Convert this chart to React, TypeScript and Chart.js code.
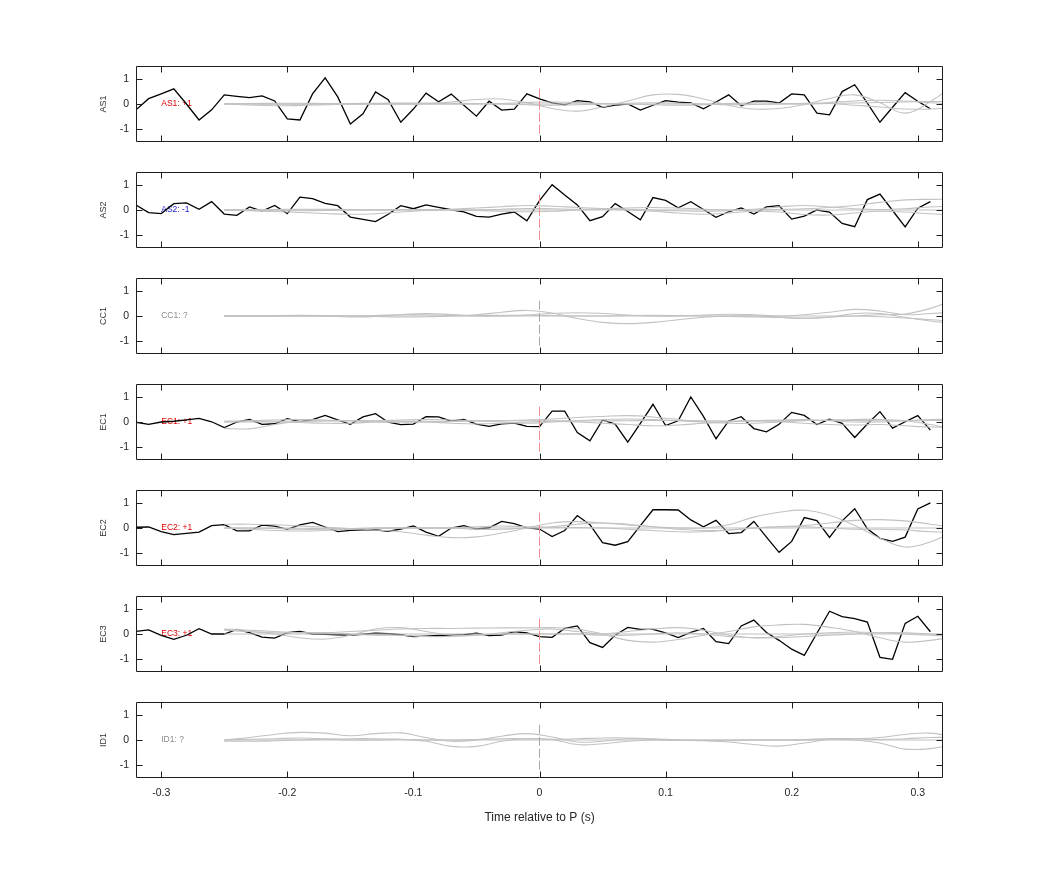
import React, { useEffect, useRef } from "react";
import { Chart, registerables } from "chart.js";

Chart.register(...registerables);

// ---------- data ----------
const TIME = [
  -0.32, -0.31, -0.3, -0.29, -0.28, -0.27, -0.26, -0.25, -0.24, -0.23, -0.22, -0.21, -0.2, -0.19, -0.18, -0.17,
  -0.16, -0.15, -0.14, -0.13, -0.12, -0.11, -0.1, -0.09, -0.08, -0.07, -0.06, -0.05, -0.04, -0.03, -0.02, -0.01,
  0, 0.01, 0.02, 0.03, 0.04, 0.05, 0.06, 0.07, 0.08, 0.09, 0.1, 0.11, 0.12, 0.13, 0.14, 0.15,
  0.16, 0.17, 0.18, 0.19, 0.2, 0.21, 0.22, 0.23, 0.24, 0.25, 0.26, 0.27, 0.28, 0.29, 0.3, 0.31,
];
const GRAY_TIME = [
  -0.25, -0.23, -0.21, -0.19, -0.17, -0.15, -0.13, -0.11, -0.09, -0.07, -0.05, -0.03, -0.01, 0.01, 0.03,
  0.05, 0.07, 0.09, 0.11, 0.13, 0.15, 0.17, 0.19, 0.21, 0.23, 0.25, 0.27, 0.29, 0.31, 0.33,
];
const X_TICKS = [-0.3, -0.2, -0.1, 0, 0.1, 0.2, 0.3];
const Y_TICKS = [-1, 0, 1];
const X_RANGE = [-0.32, 0.32];
const Y_RANGE = [-1.5, 1.5];
const X_TITLE = "Time relative to P (s)";
const ONSET_X = 0;
const ONSET_SPAN = [0.6, -1.2];
const LABEL_AT = [-0.3, 0];

const AS1_TRACE = [
  -0.23, 0.21, 0.4, 0.6, 0.0, -0.63, -0.23, 0.36, 0.3, 0.25, 0.32, 0.12, -0.59, -0.63, 0.4, 1.03,
  0.28, -0.79, -0.39, 0.48, 0.17, -0.72, -0.2, 0.43, 0.09, 0.39, -0.05, -0.48, 0.11, -0.24, -0.2, 0.4,
  0.2, 0.04, -0.03, 0.13, 0.08, -0.13, -0.04, 0.0, -0.24, -0.05, 0.13, 0.07, 0.04, -0.19, 0.08, 0.36,
  -0.07, 0.11, 0.11, 0.04, 0.4, 0.36, -0.36, -0.43, 0.49, 0.76, 0.03, -0.72, -0.13, 0.45, 0.11, -0.19,
];
const AS2_TRACE = [
  0.2, -0.1, -0.14, 0.25, 0.28, 0.03, 0.33, -0.16, -0.21, 0.12, -0.04, 0.18, -0.14, 0.51, 0.45, 0.26,
  0.17, -0.28, -0.37, -0.46, -0.17, 0.17, 0.05, 0.2, 0.1, 0.01, -0.07, -0.25, -0.28, -0.16, -0.08, -0.43,
  0.37, 1.0, 0.59, 0.2, -0.42, -0.26, 0.25, -0.06, -0.39, 0.49, 0.38, 0.09, 0.33, 0.02, -0.29, -0.07,
  0.08, -0.16, 0.12, 0.17, -0.36, -0.24, 0.0, -0.08, -0.53, -0.66, 0.41, 0.63, -0.02, -0.67, 0.07, 0.33,
];
const EC1_TRACE = [
  -0.01, -0.09, 0, 0.03, 0.08, 0.14, 0.01, -0.22, 0.0, 0.1, -0.09, -0.07, 0.13, 0.01, 0.09, 0.26,
  0.08, -0.09, 0.2, 0.33, -0.01, -0.1, -0.08, 0.21, 0.2, 0.03, 0.1, -0.08, -0.17, -0.07, -0.04, -0.17,
  -0.18, 0.43, 0.43, -0.42, -0.74, 0.08, -0.08, -0.79, -0.05, 0.7, -0.14, 0.05, 0.99, 0.22, -0.66, 0.04,
  0.21, -0.26, -0.39, -0.09, 0.38, 0.26, -0.1, 0.11, -0.05, -0.61, -0.08, 0.41, -0.24, 0.01, 0.25, -0.32,
];
const EC2_TRACE = [
  0.03, 0.04, -0.14, -0.26, -0.21, -0.16, 0.09, 0.13, -0.11, -0.11, 0.11, 0.07, -0.05, 0.12, 0.22, 0.04,
  -0.14, -0.09, -0.07, -0.07, -0.13, -0.04, 0.08, -0.16, -0.33, 0, 0.09, -0.04, 0.01, 0.26, 0.17, 0.01,
  -0.04, -0.34, -0.1, 0.49, 0.13, -0.58, -0.68, -0.54, 0.09, 0.72, 0.72, 0.71, 0.32, 0.05, 0.3, -0.22,
  -0.18, 0.26, -0.36, -0.96, -0.53, 0.41, 0.29, -0.37, 0.28, 0.76, -0.03, -0.41, -0.53, -0.36, 0.75, 0.99,
];
const EC3_TRACE = [
  0.1, 0.16, -0.05, -0.21, -0.05, 0.21, 0, 0, 0.18, 0.05, -0.12, -0.16, 0.05, 0.1, 0, -0.01,
  -0.03, -0.04, -0.01, 0.03, 0.01, -0.03, -0.1, -0.08, -0.06, -0.05, -0.03, 0.03, -0.06, -0.04, 0.09, 0.04,
  -0.1, -0.13, 0.22, 0.32, -0.34, -0.53, -0.05, 0.26, 0.18, 0.18, 0.04, -0.14, 0.06, 0.22, -0.3, -0.38,
  0.32, 0.55, 0.06, -0.25, -0.6, -0.84, 0.03, 0.9, 0.69, 0.61, 0.47, -0.92, -1.0, 0.42, 0.7, 0.09,
];

const AS1_GRAY_A = [0, 0, 0, 0, 0, 0, 0, 0, 0.0, 0.08, 0.18, 0.2, 0.05, -0.18, -0.28, -0.12, 0.12, 0.36, 0.38, 0.2, -0.05, -0.2, -0.18, -0.02, 0.22, 0.36, 0.05, -0.36, 0.1, 0.8];
const AS1_GRAY_B = [0, -0.04, -0.07, -0.06, -0.03, 0, 0, 0, 0, 0, 0, 0.02, 0.06, 0.08, 0.06, 0.02, 0, -0.03, -0.05, -0.03, 0.02, 0.05, 0.03, 0, 0.06, 0.12, 0.15, 0.12, 0.05, 0];
const AS1_GRAY_C = [0.02, 0.02, 0.03, 0.03, 0.02, 0.02, 0.03, 0.04, 0.04, 0.03, 0.02, 0, -0.03, -0.05, -0.03, 0, 0.03, 0.05, 0.03, 0, -0.03, -0.02, 0, 0.03, 0.02, -0.05, -0.12, -0.2, -0.2, -0.15];
const AS1_GRAY_D = [0, 0, -0.01, -0.01, 0, 0, 0, 0.01, 0.01, 0, 0, 0, 0, 0, 0.01, 0.01, 0, 0, 0, 0, 0, 0, 0, 0, 0.02, 0.04, 0.06, 0.08, 0.1, 0.1];

const AS2_GRAY_A = [0, -0.03, -0.06, -0.1, -0.14, -0.17, -0.15, -0.08, -0.02, 0.03, 0.08, 0.13, 0.18, 0.15, 0.1, 0.06, 0.03, 0, -0.03, -0.05, -0.03, 0, 0.02, 0.05, 0.1, 0.18, 0.3, 0.4, 0.42, 0.42];
const AS2_GRAY_B = [0, 0, 0.02, 0.03, 0.03, 0.02, 0, 0, 0, 0, 0, 0.03, 0.06, 0.05, 0.03, 0.05, 0.08, 0.1, 0.08, 0.03, 0, 0.03, 0.12, 0.18, 0.12, 0.05, 0.02, 0.05, 0.12, 0.15];
const AS2_GRAY_C = [0, -0.02, -0.03, -0.03, -0.02, 0, 0, 0, 0, 0, -0.02, -0.05, -0.07, -0.05, 0, 0.03, 0, -0.05, -0.12, -0.17, -0.12, -0.05, -0.08, -0.18, -0.2, -0.12, -0.05, -0.08, -0.15, -0.2];
const AS2_GRAY_D = [0, 0.01, 0.01, 0, 0, 0, 0.01, 0.02, 0.02, 0.01, 0, 0, 0, 0, 0, 0, 0, 0, 0, 0, 0, 0, 0, 0, 0, 0, 0, 0, 0, 0];

const CC1_GRAY_A = [0, 0, 0, 0, 0, 0, 0.02, 0.05, 0.05, 0.03, 0.05, 0.15, 0.22, 0.12, -0.1, -0.25, -0.3, -0.25, -0.15, -0.05, 0, 0, -0.05, -0.1, -0.05, 0.1, 0.1, -0.05, -0.2, -0.3];
const CC1_GRAY_B = [0, 0, 0, 0, 0, -0.04, -0.02, 0.06, 0.1, 0.06, 0, 0, 0.04, 0.1, 0.13, 0.1, 0.04, 0, 0, 0.04, 0.07, 0.05, 0, 0.05, 0.15, 0.26, 0.2, 0.05, 0.1, 0.15];
const CC1_GRAY_C = [0, 0, 0.02, 0.03, 0.02, 0, -0.02, -0.04, -0.03, 0, 0.02, 0.03, 0.03, 0.02, 0, 0, 0.02, 0.03, 0.02, 0, -0.02, -0.04, -0.06, -0.08, -0.04, 0, 0.05, 0.08, 0.3, 0.65];
const CC1_GRAY_D = [0, 0, 0, 0, 0, 0, 0, 0, 0, 0, 0, 0, 0, 0, 0, 0, 0, 0, 0, 0, 0, 0, 0, 0, 0, 0, -0.03, -0.08, -0.15, -0.2];

const EC1_GRAY_A = [-0.25, -0.27, -0.1, 0.03, 0.05, 0.05, 0, 0, 0, 0.02, 0.05, 0.05, 0.08, 0.12, 0.18, 0.22, 0.25, 0.2, 0.1, 0, -0.05, -0.05, 0, 0.05, 0.08, 0.1, 0.1, 0.05, -0.1, -0.3];
const EC1_GRAY_B = [0, 0.05, 0.08, 0.1, 0.08, 0.05, 0.05, 0.08, 0.1, 0.08, 0.05, 0, -0.05, 0, 0.05, 0.1, 0.12, 0.1, 0.05, 0, 0.02, 0.05, 0.08, 0.1, 0.05, 0, 0, 0.05, 0.1, 0.1];
const EC1_GRAY_C = [0, 0, 0, -0.02, -0.05, -0.05, 0, 0, 0, -0.05, -0.08, -0.05, 0, 0.03, 0, -0.05, -0.1, -0.15, -0.12, -0.05, 0, 0.05, 0.02, -0.05, -0.1, -0.12, -0.1, -0.15, -0.2, -0.2];
const EC1_GRAY_D = [0.04, 0.04, 0.03, 0.03, 0.04, 0.05, 0.05, 0.04, 0.03, 0.03, 0.04, 0.05, 0.05, 0.05, 0.04, 0.04, 0.05, 0.06, 0.06, 0.05, 0.04, 0.04, 0.05, 0.06, 0.06, 0.06, 0.05, 0.05, 0.06, 0.06];

const EC2_GRAY_A = [0.15, 0.15, 0.13, 0.08, 0.03, -0.02, -0.08, -0.15, -0.28, -0.38, -0.35, -0.2, 0.0, 0.2, 0.25, 0.2, 0.12, 0.05, 0.0, 0.0, 0.13, 0.43, 0.62, 0.7, 0.5, 0.1, -0.4, -0.75, -0.55, -0.1];
const EC2_GRAY_B = [0, -0.05, -0.1, -0.12, -0.1, -0.05, 0, 0, 0, 0, 0.05, 0.08, 0.05, 0.05, 0.15, 0.2, 0.15, 0.05, -0.05, -0.1, -0.08, 0, 0.05, 0.1, 0.2, 0.3, 0.33, 0.28, 0.15, 0];
const EC2_GRAY_C = [0, 0, -0.02, -0.05, -0.05, -0.03, 0, 0, 0, 0, -0.05, -0.05, 0, 0.02, 0.02, 0, -0.05, -0.1, -0.15, -0.15, -0.08, 0, 0.05, 0.05, 0, -0.05, -0.05, -0.08, -0.15, -0.15];
const EC2_GRAY_D = [0, 0, 0, -0.01, -0.02, -0.02, -0.01, 0, 0, 0, 0, 0, 0, 0, 0, 0, 0, 0, 0, 0, 0, 0, 0, 0, 0, 0, 0, 0, 0, 0];

const EC3_GRAY_A = [0.2, 0.15, 0.1, 0.05, 0.05, 0.1, 0.15, 0.2, 0.22, 0.22, 0.23, 0.24, 0.24, 0.25, 0.2, 0.0, -0.25, -0.32, -0.22, -0.05, 0.1, 0.28, 0.36, 0.38, 0.26, 0.1, -0.15, -0.32, -0.25, -0.1];
const EC3_GRAY_B = [0.18, 0.1, 0, -0.15, -0.2, -0.05, 0.2, 0.25, 0.1, -0.05, -0.05, 0.05, 0.15, 0.2, 0.1, 0, 0.1, 0.2, 0.25, 0.15, -0.05, -0.15, -0.1, 0, 0.05, 0.08, 0.05, 0, -0.05, -0.1];
const EC3_GRAY_C = [0.15, 0.1, 0.05, 0.05, 0.05, 0, -0.05, -0.05, -0.1, -0.1, -0.05, 0, 0, 0, 0, -0.05, -0.05, 0, 0.05, 0, -0.1, -0.15, -0.15, -0.1, -0.05, 0, 0.05, 0.05, 0, -0.05];
const EC3_GRAY_D = [0, 0, 0, 0, 0, 0, 0, 0, 0, 0, 0, 0, 0, 0, 0, 0, 0, 0, 0, 0, 0, 0, 0, 0, 0, 0, 0, 0, 0, 0];

const ID1_GRAY_A = [0, 0.1, 0.22, 0.3, 0.27, 0.17, 0.25, 0.28, 0.1, -0.05, 0, 0.15, 0.25, 0.12, -0.08, -0.05, 0.05, 0.03, -0.02, 0, 0, 0, 0, 0, 0.05, 0.05, 0.1, 0.22, 0.27, 0.1];
const ID1_GRAY_B = [0, 0.03, 0.05, 0.08, 0.05, 0, 0, 0.02, -0.05, -0.25, -0.25, -0.05, 0.05, 0.02, -0.18, -0.15, -0.05, 0, 0, -0.02, -0.08, -0.18, -0.24, -0.12, 0.02, 0, -0.12, -0.36, -0.34, -0.15];
const ID1_GRAY_C = [-0.05, -0.05, -0.03, 0, 0.03, 0.05, 0.05, 0.03, 0, 0, 0.02, 0.05, 0.05, 0.03, 0.05, 0.08, 0.08, 0.05, 0, -0.03, -0.03, 0, 0, 0.02, 0.05, 0.05, 0.02, 0.05, 0.1, 0.1];
const ID1_GRAY_D = [0, 0, 0, 0, 0, 0, 0, 0, 0, 0, 0, 0, 0, 0, 0, 0, 0, 0, 0, 0, 0, 0, 0, 0, 0, 0, 0, 0, 0, 0];

const PANEL_NAMES = ["AS1", "AS2", "CC1", "EC1", "EC2", "EC3", "ID1"];
const PANEL_LABELS = ["AS1: +1", "AS2: -1", "CC1: ?", "EC1: +1", "EC2: +1", "EC3: +1", "ID1: ?"];
const PANEL_SIGNS = ["+", "-", "?", "+", "+", "+", "?"];
const PANEL_TRACES = [AS1_TRACE, AS2_TRACE, null, EC1_TRACE, EC2_TRACE, EC3_TRACE, null];
const PANEL_GRAYS = [
  [AS1_GRAY_D, AS1_GRAY_C, AS1_GRAY_B, AS1_GRAY_A],
  [AS2_GRAY_D, AS2_GRAY_C, AS2_GRAY_B, AS2_GRAY_A],
  [CC1_GRAY_D, CC1_GRAY_C, CC1_GRAY_B, CC1_GRAY_A],
  [EC1_GRAY_D, EC1_GRAY_C, EC1_GRAY_B, EC1_GRAY_A],
  [EC2_GRAY_D, EC2_GRAY_C, EC2_GRAY_B, EC2_GRAY_A],
  [EC3_GRAY_D, EC3_GRAY_C, EC3_GRAY_B, EC3_GRAY_A],
  [ID1_GRAY_D, ID1_GRAY_C, ID1_GRAY_B, ID1_GRAY_A],
];

// ---------- style / layout ----------
const FONT = "'Liberation Sans', Arial, Helvetica, sans-serif";
const SIGN_COLORS: Record<string, string> = { "+": "#e00000", "-": "#1a1ad0", "?": "#8a8a8a" };
const PLOT_LEFT = 136;
const PLOT_RIGHT = 943;
const PLOT_TOP = 66;
const PLOT_H = 76;
const PANEL_STEP = 106;
const PAD_TOP = 16;
const BOTTOM = 16;
const BOTTOM_LAST = 60;
const Y_AXIS_W = 50;
const TICK_LEN = 6;

const fmtTick = (v: number) => (Math.abs(v) < 1e-9 ? "0" : String(+v.toFixed(1)));

const framePlugin = {
  id: "panelFrame",
  beforeDatasetsDraw(chart: any, _args: any, opts: any) {
    const { ctx, scales } = chart;
    ctx.save();
    ctx.font = `8.5px ${FONT}`;
    ctx.fillStyle = opts.labelColor;
    ctx.textAlign = "left";
    ctx.textBaseline = "middle";
    ctx.fillText(opts.label, scales.x.getPixelForValue(LABEL_AT[0]), scales.y.getPixelForValue(LABEL_AT[1]));
    ctx.restore();
  },
  afterDatasetsDraw(chart: any) {
    const { ctx, chartArea: a, scales } = chart;
    const L = Math.round(a.left) + 0.5;
    const R = Math.round(a.right) - 0.5;
    const T = Math.round(a.top) + 0.5;
    const B = Math.round(a.bottom) - 0.5;
    ctx.save();
    ctx.strokeStyle = "#1e1e1e";
    ctx.lineWidth = 1;
    ctx.beginPath();
    ctx.rect(L, T, R - L, B - T);
    for (const v of X_TICKS) {
      const px = Math.round(scales.x.getPixelForValue(v)) + 0.5;
      ctx.moveTo(px, T);
      ctx.lineTo(px, T + TICK_LEN);
      ctx.moveTo(px, B);
      ctx.lineTo(px, B - TICK_LEN);
    }
    for (const v of Y_TICKS) {
      const py = Math.round(scales.y.getPixelForValue(v)) + 0.5;
      ctx.moveTo(L, py);
      ctx.lineTo(L + TICK_LEN, py);
      ctx.moveTo(R, py);
      ctx.lineTo(R - TICK_LEN, py);
    }
    ctx.stroke();
    ctx.restore();
  },
};

function Panel({ index }: { index: number }) {
  const ref = useRef<HTMLCanvasElement | null>(null);
  const isLast = index === PANEL_NAMES.length - 1;
  const top = PLOT_TOP + index * PANEL_STEP - PAD_TOP;
  const height = PAD_TOP + PLOT_H + (isLast ? BOTTOM_LAST : BOTTOM);

  useEffect(() => {
    const trace = PANEL_TRACES[index];
    const datasets: any[] = [];
    datasets.push({
      data: ONSET_SPAN.map((v) => ({ x: ONSET_X, y: v })),
      borderColor: trace ? "#ee8c8c" : "#a8a8a8",
      borderWidth: 1,
      borderDash: [9, 3],
      pointRadius: 0,
      tension: 0,
    });
    PANEL_GRAYS[index].forEach((g) => {
      datasets.push({
        data: GRAY_TIME.map((t, i) => ({ x: t, y: g[i] })),
        borderColor: "#c2c2c2",
        borderWidth: 1.1,
        pointRadius: 0,
        tension: 0.4,
      });
    });
    if (trace) {
      datasets.push({
        data: TIME.map((t, i) => ({ x: t, y: trace[i] })),
        borderColor: "#000000",
        borderWidth: 1.3,
        pointRadius: 0,
        tension: 0,
      });
    }
    const chart = new Chart(ref.current as HTMLCanvasElement, {
      type: "line",
      data: { datasets },
      options: {
        responsive: false,
        maintainAspectRatio: false,
        animation: false,
        events: [],
        layout: {
          padding: { left: PLOT_LEFT - Y_AXIS_W, right: 1042 - PLOT_RIGHT, top: PAD_TOP, bottom: 0 },
        },
        plugins: {
          legend: { display: false },
          tooltip: { enabled: false },
          panelFrame: {
            label: PANEL_LABELS[index],
            labelColor: SIGN_COLORS[PANEL_SIGNS[index]],
          },
        } as any,
        scales: {
          x: {
            type: "linear",
            min: X_RANGE[0],
            max: X_RANGE[1],
            afterBuildTicks: (s: any) => {
              s.ticks = X_TICKS.map((v) => ({ value: v }));
            },
            afterFit: (s: any) => {
              s.height = isLast ? BOTTOM_LAST : BOTTOM;
            },
            grid: { display: false, drawTicks: false },
            border: { display: false },
            ticks: {
              display: isLast,
              padding: 9,
              autoSkip: false,
              maxRotation: 0,
              color: "#262626",
              font: { family: FONT, size: 10.5 },
              callback: (v: any) => fmtTick(Number(v)),
            },
            title: {
              display: isLast,
              text: X_TITLE,
              color: "#262626",
              font: { family: FONT, size: 12 },
              padding: { top: 0, bottom: 13 },
            },
          },
          y: {
            type: "linear",
            min: Y_RANGE[0],
            max: Y_RANGE[1],
            afterBuildTicks: (s: any) => {
              s.ticks = Y_TICKS.map((v) => ({ value: v }));
            },
            afterFit: (s: any) => {
              s.width = Y_AXIS_W;
            },
            grid: { display: false, drawTicks: false },
            border: { display: false },
            ticks: {
              padding: 7,
              color: "#262626",
              font: { family: FONT, size: 10.5 },
              callback: (v: any) => String(v),
            },
            title: {
              display: true,
              text: PANEL_NAMES[index],
              color: "#333333",
              font: { family: FONT, size: 9 },
              padding: { top: 12, bottom: 0 },
            },
          },
        },
      },
      plugins: [framePlugin as any],
    });
    return () => chart.destroy();
  }, [index]);

  return (
    <div style={{ position: "absolute", left: 0, top, width: 1042, height }}>
      <canvas ref={ref} width={1042} height={height} style={{ display: "block" }} />
    </div>
  );
}

export default function App() {
  return (
    <div style={{ position: "absolute", left: 0, top: 0, width: 1042, height: 875, background: "#ffffff" }}>
      {PANEL_NAMES.map((_, i) => (
        <Panel key={i} index={i} />
      ))}
    </div>
  );
}
